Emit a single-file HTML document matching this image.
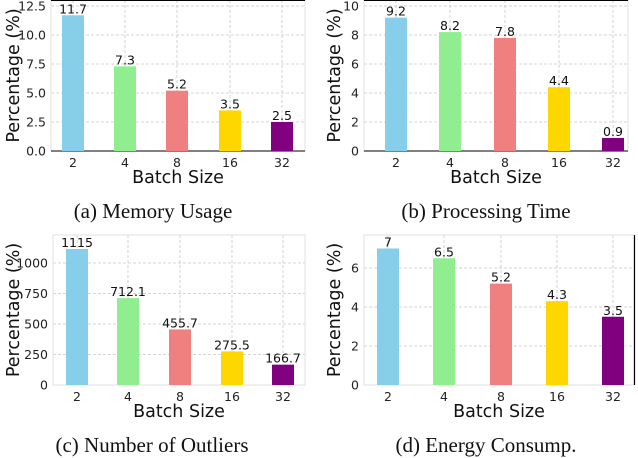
<!DOCTYPE html>
<html><head><meta charset="utf-8"><style>
body{margin:0;background:#fff;width:638px;height:458px;overflow:hidden}
svg{display:block}
</style></head><body>
<svg id="s" width="638" height="458" xmlns="http://www.w3.org/2000/svg"></svg>
<script>
const categories = ["2","4","8","16","32"];
const colors = ["#87ceeb","#90ee90","#f08080","#ffd700","#800080"];
const memoryValues = [11.7, 7.3, 5.2, 3.5, 2.5];
const memoryLabels = ["11.7","7.3","5.2","3.5","2.5"];
const memoryTicks = ["0.0","2.5","5.0","7.5","10.0","12.5"];
const timeValues = [9.2, 8.2, 7.8, 4.4, 0.9];
const timeLabels = ["9.2","8.2","7.8","4.4","0.9"];
const timeTicks = ["0","2","4","6","8","10"];
const outlierValues = [1115, 712.1, 455.7, 275.5, 166.7];
const outlierLabels = ["1115","712.1","455.7","275.5","166.7"];
const outlierTicks = ["0","250","500","750","1000"];
const energyValues = [7, 6.5, 5.2, 4.3, 3.5];
const energyLabels = ["7","6.5","5.2","4.3","3.5"];
const energyTicks = ["0","2","4","6"];

const NS="http://www.w3.org/2000/svg";
const svg=document.getElementById('s');
function mk(tag,attrs,parent){const e=document.createElementNS(NS,tag);for(const k in attrs)e.setAttribute(k,attrs[k]);(parent||svg).appendChild(e);return e;}

const panels=[
 {id:'memory',x0:51,x1:305,y0:151,yTop:0,ymax:12.5,vals:memoryValues,labs:memoryLabels,ticks:memoryTicks,centers:[73,125,177,230,282],cap:"(a) Memory Usage",capX:153,capY:218,xlY:183,ylX:19,black:true},
 {id:'time',x0:364,x1:628,y0:151,yTop:0,ymax:10,vals:timeValues,labs:timeLabels,ticks:timeTicks,centers:[396,450,505,559,613],cap:"(b) Processing Time",capX:486,capY:218,xlY:183,ylX:340,black:true},
 {id:'outliers',x0:53,x1:305,y0:385,yTop:235,ymax:1000*(385-235)/(385-263),vals:outlierValues,labs:outlierLabels,ticks:outlierTicks,centers:[77,128,180,232,283],cap:"(c) Number of Outliers",capX:152,capY:452,xlY:417,ylX:19,black:false},
 {id:'energy',x0:364,x1:634,y0:385,yTop:235,ymax:2*(385-235)/39,vals:energyValues,labs:energyLabels,ticks:energyTicks,centers:[388,444,501,557,613],cap:"(d) Energy Consump.",capX:486,capY:452,xlY:417,ylX:340,black:false}
];
const tickStep={memory:2.5,time:2,outliers:250,energy:2};

panels.forEach(p=>{
 const g=mk('g',{});
 
 
 let h=(p.id==='memory'||p.id==='time')?145:(p.y0-p.yTop);
 const ymax=p.ymax;
 const y=v=>p.y0-v/ymax*h;
 p.ticks.forEach((t,i)=>{const v=i*tickStep[p.id];const yy=y(v);
  if(i>0){const gl=mk('line',{x1:p.x0,x2:p.x1,y1:yy,y2:yy,stroke:'#c8c8c8','stroke-width':0.8,'stroke-dasharray':'3,2'},g);
   }
  const tl=mk('text',{x:p.x0-5,y:yy+4.5,'text-anchor':'end','font-size':12.5,'font-family':'DejaVu Sans, sans-serif',fill:'#222'},g);
  tl.textContent=t;
 });
 p.centers.forEach(c=>{const gl=mk('line',{x1:c,x2:c,y1:p.yTop,y2:p.y0,stroke:'#c8c8c8','stroke-width':0.8,'stroke-dasharray':'3,2'},g);
  });
 const fr=mk('rect',{x:p.x0,y:p.yTop,width:p.x1-p.x0,height:p.y0-p.yTop,fill:'none',stroke:'#e0e0e0','stroke-width':1},g);
 
 if(p.black){const bl=mk('line',{x1:p.x0,x2:p.x1,y1:p.y0,y2:p.y0,stroke:'#000','stroke-width':1},g);
  
  const tl2=mk('line',{x1:p.x0,x2:p.x1,y1:0.5,y2:0.5,stroke:'#000','stroke-width':1},g);
  }
 if(p.id==='energy'){const rl=mk('line',{x1:p.x1+0.5,x2:p.x1+0.5,y1:p.yTop,y2:p.y0,stroke:'#000','stroke-width':1.2},g);
  }
 p.vals.forEach((v,i)=>{const c=p.centers[i];const yy=y(v);
  const b=mk('rect',{x:c-11,y:yy,width:22,height:p.y0-yy,fill:colors[i]},g);
  
  const vl=mk('text',{x:c,y:yy-2,'text-anchor':'middle','font-size':12.5,'font-family':'DejaVu Sans, sans-serif',fill:'#111'},g);
  vl.textContent=p.labs[i];
  const xl=mk('text',{x:c,y:p.y0+16,'text-anchor':'middle','font-size':12.5,'font-family':'DejaVu Sans, sans-serif',fill:'#222'},g);
  xl.textContent=categories[i];
 });
 const cx=(p.x0+p.x1)/2;
 const xt=mk('text',{x:cx,y:p.xlY,'text-anchor':'middle','font-size':17.5,'font-family':'DejaVu Sans, sans-serif',fill:'#111'},g);
 xt.textContent='Batch Size';
 const ym=(p.yTop+p.y0)/2;
 const yt=mk('text',{x:0,y:0,'text-anchor':'middle','font-size':17.5,'font-family':'DejaVu Sans, sans-serif',fill:'#111',transform:`translate(${p.ylX},${ym}) rotate(-90)`},g);
 yt.textContent='Percentage (%)';
 const cp=mk('text',{x:p.capX,y:p.capY,'text-anchor':'middle','font-size':21,'font-family':'Liberation Serif, serif',fill:'#111'},g);
 cp.textContent=p.cap;
});
</script>
</body></html>
